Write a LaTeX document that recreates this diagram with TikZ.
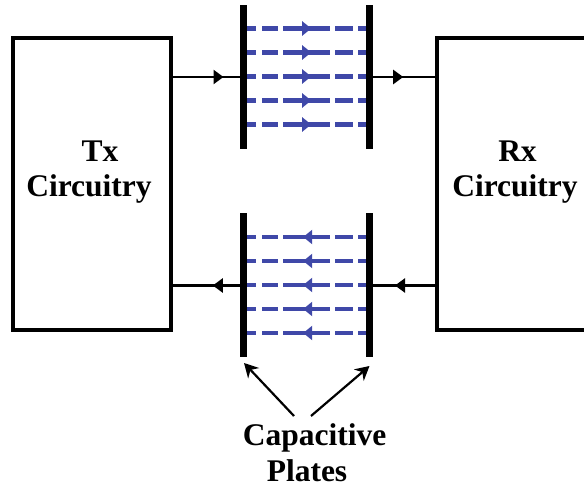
\documentclass[tikz,border=0pt]{standalone}
\usepackage{fontspec}
\setmainfont{Liberation Serif}
\usepackage{xcolor}
\definecolor{fieldcolor}{RGB}{63, 72, 168}
\usepackage{tikz}
\usetikzlibrary{arrows.meta, calc, decorations.markings}

\tikzset{
  circuit/.style={draw, line width=4pt, inner sep=0pt, minimum height=292pt},
  plate/.style={fill=black, inner sep=0pt, minimum width=7pt, minimum height=144pt},
  title/.style={font=\fontsize{31.5}{36}\selectfont\bfseries, anchor=base, inner sep=0pt},
  midtip/.style 2 args={postaction={decorate}, decoration={markings,
      mark=at position #1 with {\arrow{Triangle[length=#2pt, width=14pt]}}}},
  backtip/.style 2 args={postaction={decorate}, decoration={markings,
      mark=at position #1 with {\arrowreversed{Triangle[length=#2pt, width=14pt]}}}},
  wire/.style={line width=2.4pt},
  field/.style={draw=fieldcolor, line width=4.2pt,
      dash pattern=on 9pt off 6pt on 16pt off 5pt on 47pt off 5pt on 18pt off 5pt on 8pt},
  pointer/.style={-{Stealth[length=14pt, width=15pt]}, line width=2.2pt},
}

\begin{document}
\begin{tikzpicture}[x=1pt, y=-1pt]
  \useasboundingbox (0,0) rectangle (584,486);
  \clip (0,0) rectangle (584,486);

  \node[circuit, minimum width=157.5pt] (txbox) at (91.75,184.5) {};
  \node[circuit, minimum width=180pt, anchor=west] (rxbox) at (435,184.5) {};
  \node[title] (txname) at (100,161.5) {Tx};
  \node[title] (txlabel) at (89,196.5) {Circuitry};
  \node[title] (rxname) at (517.5,161.5) {Rx};
  \node[title] (rxlabel) at (515,196.5) {Circuitry};

  \node[plate] (plateTL) at (243.5,77) {};
  \node[plate] (plateTR) at (369.5,77) {};
  \node[plate] (plateBL) at (243.5,285.5) {};
  \node[plate] (plateBR) at (369.5,285.5) {};

  \path[draw, wire]
    (txbox.east |- plateTL.west) edge[midtip={51pt}{10}] (plateTL.west)
    (plateTR.east) edge[midtip={30pt}{10}] (rxbox.west |- plateTR.east)
    (plateBL.west) edge[midtip={27pt}{10}] (txbox.east |- plateBL.west)
    (rxbox.west |- plateBR.east) edge[midtip={40pt}{10}] (plateBR.east);

  % field lines between the plates
  \foreach \dy [count=\i] in {-48.5,-24.5,-0.5,23.5,47.5} {
    \coordinate (fa\i) at ($(plateTL.east)+(0,\dy)$);
    \coordinate (fb\i) at ($(plateTR.west)+(0,\dy)$);
    \coordinate (fc\i) at ($(plateBL.east)+(0,\dy)$);
    \coordinate (fd\i) at ($(plateBR.west)+(0,\dy)$);
    \path[field, midtip={64pt}{9}] (fa\i) -- (fb\i);
    \path[field, backtip={56pt}{9}] (fc\i) -- (fd\i);
  }

  \node[title] (capname) at (314.5,445) {Capacitive};
  \node[title] (capplates) at (307,481) {Plates};

  \coordinate (ptrLfrom) at (294,416);
  \coordinate (ptrRfrom) at (311,416);
  \coordinate (ptrLto) at (244,363);
  \coordinate (ptrRto) at (369.5,366);
  \draw[pointer] (ptrLfrom) -- (ptrLto);
  \draw[pointer] (ptrRfrom) -- (ptrRto);
\end{tikzpicture}
\end{document}
